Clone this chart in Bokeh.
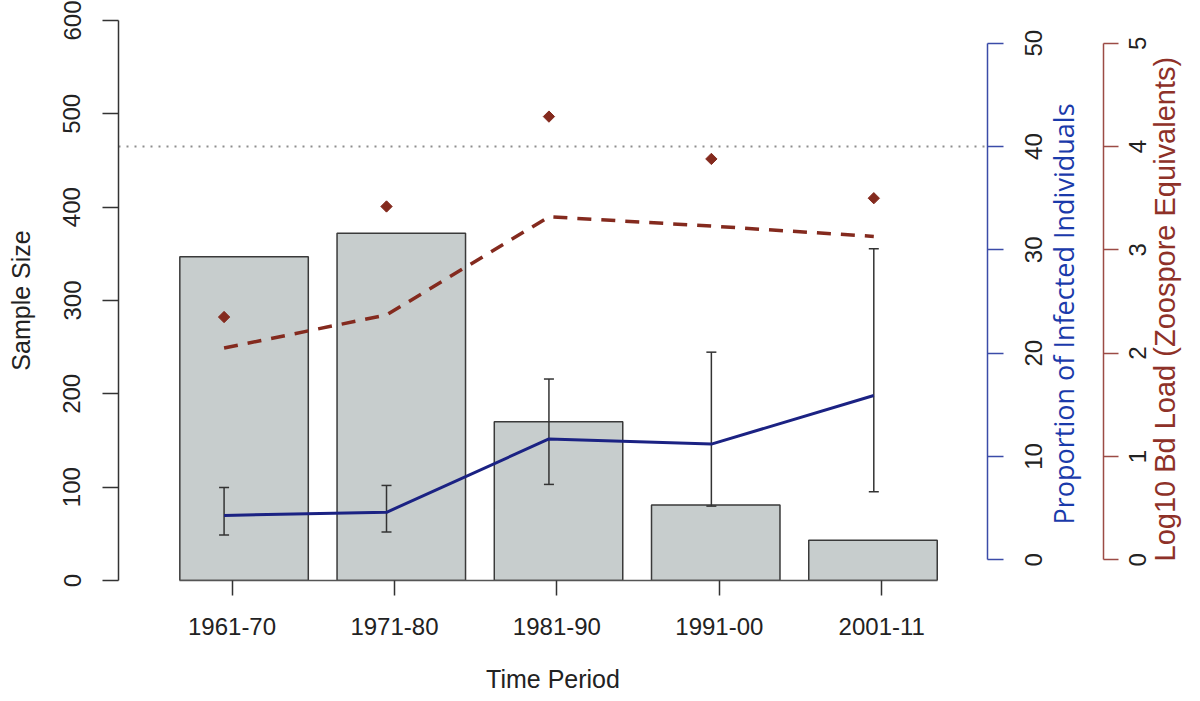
import math
from bokeh.plotting import figure
from bokeh.models import (Range1d, LinearAxis, FixedTicker, ColumnDataSource,
                          Whisker, TeeHead, CustomJSTickFormatter)
from bokeh.embed import file_html
from bokeh.resources import INLINE

# ---------------- data ----------------
periods = ["1961-70", "1971-80", "1981-90", "1991-00", "2001-11"]
sample_size = [347, 372, 170, 81, 43]
prevalence = [4.3, 4.6, 11.7, 11.2, 15.9]          # % infected
prev_lower = [2.4, 2.7, 7.3, 5.2, 6.6]
prev_upper = [7.0, 7.2, 17.5, 20.1, 30.1]
bd_load_mean = [2.05, 2.37, 3.32, 3.23, 3.13]       # log10 zoospore equivalents
bd_load_max = [2.35, 3.42, 4.29, 3.88, 3.50]
threshold_pct = 40

left_ticks = [0, 100, 200, 300, 400, 500, 600]
blue_ticks = [0, 10, 20, 30, 40, 50]
red_ticks = [0, 1, 2, 3, 4, 5]

x_title = "Time Period"
y_title = "Sample Size"
blue_title = "Proportion of Infected Individuals"
red_title = "Log10 Bd Load (Zoospore Equivalents)"

# ---------------- layout constants ----------------
FONT = "Liberation Sans"
BAR_START, BAR_STEP, BAR_WIDTH = 1.074, 0.968, 0.791
LINE_SHIFT = -0.049
FRAME_L, FRAME_R, FRAME_T, FRAME_B = 118, 987, 20, 580
W, H = 1200, 701
BLUE_RANGE = (-2.0, 52.2)
RED_RANGE = (-0.2, 5.22)
TICK_FS = 24                      # px, tick label font size
DIGIT_W = 0.556 * TICK_FS         # width of one digit


def px_per_unit(rng):
    return (FRAME_B - FRAME_T) / (rng[1] - rng[0])


def value_at(py, rng):
    """screen y -> value on a right-hand scale (where a rotated text starts)"""
    return rng[0] + (FRAME_B - py) / px_per_unit(rng)


n = len(periods)
tick_x = list(range(1, n + 1))
bar_x = [BAR_START + BAR_STEP * i for i in range(n)]
line_x = [t + LINE_SHIFT for t in tick_x]

BAR_FILL = "#C7CDCD"
BLUE_LINE = "#1B2283"
BLUE_AXIS = "#3B4BA8"
BLUE_TEXT = "#1A3AAA"
RED_LINE = "#842A1E"
RED_AXIS = "#9C4B45"
RED_TEXT = "#8E3128"
TXT = "#222222"

p = figure(width=W, height=H, output_backend="svg", toolbar_location=None,
           x_range=Range1d(0.301, 5.651), y_range=Range1d(0, 600), min_border=0)
p.min_border_left = FRAME_L
p.min_border_right = W - FRAME_R
p.min_border_top = FRAME_T
p.min_border_bottom = H - FRAME_B
p.outline_line_color = None
p.xgrid.visible = False
p.ygrid.visible = False
p.background_fill_color = "white"
p.border_fill_color = "white"

p.extra_y_ranges = {"blue": Range1d(*BLUE_RANGE), "red": Range1d(*RED_RANGE)}

# bars
p.vbar(x=bar_x, top=sample_size, bottom=0, width=BAR_WIDTH,
       fill_color=BAR_FILL, line_color="#3A3A3A", line_width=1.5)

# dotted reference line at 40 %
p.hspan(y=[threshold_pct], y_range_name="blue", line_color="#8E8E8E",
        line_width=2, line_dash="2 6")

# error bars
err_src = ColumnDataSource(dict(x=line_x, lower=prev_lower, upper=prev_upper))
wh = Whisker(base="x", lower="lower", upper="upper", source=err_src,
             dimension="height", y_range_name="blue", level="glyph",
             line_color="#333333", line_width=1.5,
             upper_head=TeeHead(size=10, line_color="#333333", line_width=1.5),
             lower_head=TeeHead(size=10, line_color="#333333", line_width=1.5))
p.add_layout(wh)

# prevalence line
p.line(x=line_x, y=prevalence, y_range_name="blue", line_color=BLUE_LINE,
       line_width=3, level="overlay")

# bd load mean (dashed) and maxima (diamonds)
p.line(x=line_x, y=bd_load_mean, y_range_name="red", line_color=RED_LINE,
       line_width=3.5, line_dash="14 10", level="overlay")
p.scatter(x=line_x, y=bd_load_max, y_range_name="red", marker="square",
          angle=math.pi / 4, size=8, fill_color=RED_LINE, line_color=RED_LINE,
          level="overlay")

# ---------------- bottom / left axes ----------------
xa = p.xaxis[0]
xa.ticker = FixedTicker(ticks=tick_x)
xa.major_label_overrides = {t: lab for t, lab in zip(tick_x, periods)}
xa.bounds = (bar_x[0] - BAR_WIDTH / 2, bar_x[-1] + BAR_WIDTH / 2)
xa.axis_line_color = "#555555"
xa.axis_line_width = 1.5
xa.major_tick_line_color = "#333333"
xa.major_tick_line_width = 1.5
xa.major_tick_out = 15
xa.major_tick_in = 0
xa.minor_tick_out = 0
xa.minor_tick_in = 0
xa.major_label_standoff = 22
xa.major_label_text_font = FONT
xa.major_label_text_font_size = f"{TICK_FS}px"
xa.major_label_text_color = TXT
xa.axis_label = x_title
xa.axis_label_text_font = FONT
xa.axis_label_text_font_size = "25px"
xa.axis_label_text_font_style = "normal"
xa.axis_label_text_color = TXT
xa.axis_label_standoff = 27

ya = p.yaxis[0]
ya.ticker = FixedTicker(ticks=left_ticks)
ya.bounds = (0, 600)
ya.axis_line_color = "#333333"
ya.axis_line_width = 1.5
ya.major_tick_line_color = "#333333"
ya.major_tick_line_width = 1.5
ya.major_tick_out = 16
ya.major_tick_in = 0
ya.minor_tick_out = 0
ya.minor_tick_in = 0
ya.major_label_orientation = "vertical"
ya.major_label_standoff = 22
ya.major_label_text_font = FONT
ya.major_label_text_font_size = f"{TICK_FS}px"
ya.major_label_text_color = TXT
ya.axis_label = y_title
ya.axis_label_text_font = FONT
ya.axis_label_text_font_size = "25px"
ya.axis_label_text_font_style = "normal"
ya.axis_label_text_color = TXT
ya.axis_label_standoff = 26


# ---------------- right-hand axes ----------------
# Rotated (bottom-to-top) labels start at their tick, so each right scale is
# built from: a line+tick axis, a label axis whose ticks sit half a label
# length lower, and a one-tick axis that carries the title.
def line_axis(rng_name, ticks, bounds, color, tick_out):
    ax = LinearAxis(y_range_name=rng_name,
                    ticker=FixedTicker(ticks=[], minor_ticks=ticks),
                    bounds=bounds)
    ax.axis_line_color = color
    ax.axis_line_width = 1.5
    ax.minor_tick_line_color = color
    ax.minor_tick_line_width = 1.5
    ax.minor_tick_out = tick_out
    ax.minor_tick_in = 0
    ax.major_tick_out = 0
    ax.major_tick_in = 0
    return ax


def label_axis(rng_name, ticks, rng, standoff):
    ppu = px_per_unit(rng)
    pos = [t - len(str(t)) * DIGIT_W / 2 / ppu for t in ticks]
    ax = LinearAxis(y_range_name=rng_name, ticker=FixedTicker(ticks=pos))
    ax.formatter = CustomJSTickFormatter(args=dict(vals=ticks, pos=pos), code="""
        let k = 0;
        for (let i = 0; i < pos.length; i++)
            if (Math.abs(pos[i] - tick) < Math.abs(pos[k] - tick)) k = i;
        return String(vals[k]);
    """)
    ax.axis_line_alpha = 0
    ax.major_tick_out = 0
    ax.major_tick_in = 0
    ax.minor_tick_out = 0
    ax.minor_tick_in = 0
    ax.major_label_orientation = math.pi / 2
    ax.major_label_standoff = standoff
    ax.major_label_text_font = FONT
    ax.major_label_text_font_size = f"{TICK_FS}px"
    ax.major_label_text_color = TXT
    return ax


def title_axis(rng_name, start, text, font, size, color, standoff):
    ax = LinearAxis(y_range_name=rng_name, ticker=FixedTicker(ticks=[start]))
    ax.formatter = CustomJSTickFormatter(args=dict(t=text), code="return t;")
    ax.axis_line_alpha = 0
    ax.major_tick_out = 0
    ax.major_tick_in = 0
    ax.minor_tick_out = 0
    ax.minor_tick_in = 0
    ax.major_label_orientation = math.pi / 2
    ax.major_label_standoff = standoff
    ax.major_label_text_font = font
    ax.major_label_text_font_size = size
    ax.major_label_text_color = color
    return ax


p.add_layout(line_axis("blue", blue_ticks, (0, 50), BLUE_AXIS, 16), "right")
p.add_layout(label_axis("blue", blue_ticks, BLUE_RANGE, 30), "right")
p.add_layout(title_axis("blue", value_at(524, BLUE_RANGE), blue_title,
                        "Open Sans", "27px", BLUE_TEXT, 10), "right")

p.add_layout(line_axis("red", red_ticks, (0, 5), RED_AXIS, 15), "right")
p.add_layout(label_axis("red", red_ticks, RED_RANGE, 19), "right")
p.add_layout(title_axis("red", value_at(561, RED_RANGE), red_title,
                        FONT, "29px", RED_TEXT, 7), "right")

open("out.html", "w").write(file_html(p, INLINE))
